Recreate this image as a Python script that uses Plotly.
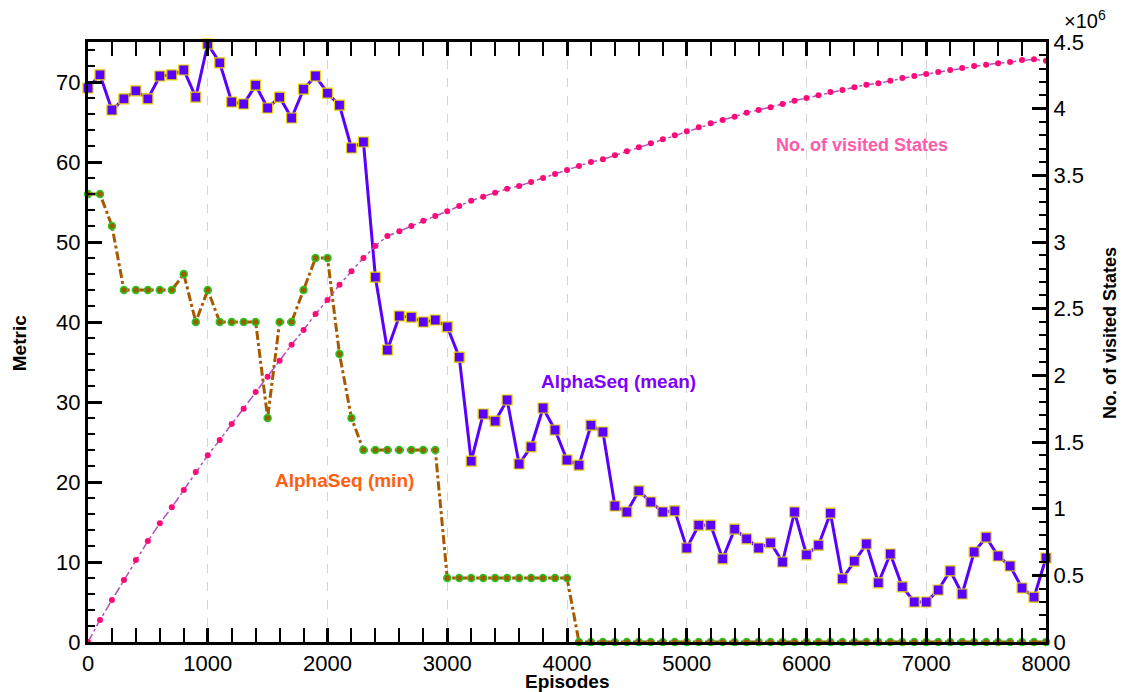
import plotly.graph_objects as go

EPISODES = list(range(0, 8001, 100))

MEAN = [69.25, 70.9, 66.5, 67.9, 68.9, 67.9, 70.75, 70.9, 71.5, 68.1,
        74.75, 72.4, 67.5, 67.25, 69.6, 66.75, 68.1, 65.5, 69.1, 70.75,
        68.6, 67.1, 61.75, 62.5, 45.6, 36.5, 40.75, 40.6, 40.0, 40.25,
        39.4, 35.6, 22.6, 28.5, 27.6, 30.25, 22.25, 24.4, 29.25, 26.5,
        22.75, 22.1, 27.1, 26.25, 17.0, 16.25, 18.9, 17.5, 16.25, 16.4,
        11.75, 14.6, 14.6, 10.4, 14.1, 12.9, 11.75, 12.4, 10.0, 16.25,
        10.9, 12.1, 16.1, 7.9, 10.1, 12.25, 7.4, 11.0, 6.9, 5.0,
        5.0, 6.5, 8.9, 6.0, 11.25, 13.1, 10.75, 9.5, 6.75, 5.6,
        10.5]

MIN = [56, 56, 52, 44, 44, 44, 44, 44, 46, 40,
       44, 40, 40, 40, 40, 28, 40, 40, 44, 48,
       48, 36, 28, 24, 24, 24, 24, 24, 24, 24,
       8, 8, 8, 8, 8, 8, 8, 8, 8, 8,
       8, 0, 0, 0, 0, 0, 0, 0, 0, 0,
       0, 0, 0, 0, 0, 0, 0, 0, 0, 0,
       0, 0, 0, 0, 0, 0, 0, 0, 0, 0,
       0, 0, 0, 0, 0, 0, 0, 0, 0, 0,
       0]

# visited states, in millions (axis shows x10^6)
STATES_M = [0.0, 0.165, 0.315, 0.465, 0.615, 0.757, 0.89, 1.01, 1.14, 1.275,
            1.40, 1.515, 1.635, 1.75, 1.875, 1.99, 2.11, 2.23, 2.34, 2.46,
            2.565, 2.68, 2.78, 2.88, 2.97, 3.045, 3.08, 3.12, 3.16, 3.195,
            3.23, 3.27, 3.31, 3.34, 3.37, 3.40, 3.42, 3.45, 3.48, 3.51,
            3.54, 3.57, 3.60, 3.62, 3.65, 3.68, 3.71, 3.74, 3.77, 3.80,
            3.83, 3.86, 3.89, 3.915, 3.94, 3.97, 3.99, 4.01, 4.035, 4.06,
            4.08, 4.10, 4.125, 4.14, 4.16, 4.18, 4.19, 4.21, 4.23, 4.245,
            4.26, 4.275, 4.29, 4.305, 4.32, 4.33, 4.34, 4.35, 4.365, 4.37,
            4.36]

X_TICKS = list(range(0, 8001, 1000))
Y_TICKS = list(range(0, 71, 10))
Y2_TICKS = [0, 0.5, 1, 1.5, 2, 2.5, 3, 3.5, 4, 4.5]
Y2_LABELS = ["0", "0.5", "1", "1.5", "2", "2.5", "3", "3.5", "4", "4.5"]

FONT = "Liberation Sans, Arial, sans-serif"

fig = go.Figure()

fig.add_trace(go.Scatter(
    x=EPISODES, y=MIN, name="AlphaSeq (min)", mode="lines+markers",
    line=dict(color="#A65A00", width=3, dash="dashdot"),
    marker=dict(symbol="circle", size=7, color="#A65A00",
                line=dict(color="#22CC22", width=1.5)),
    cliponaxis=False, yaxis="y"))

fig.add_trace(go.Scatter(
    x=EPISODES, y=MEAN, name="AlphaSeq (mean)", mode="lines+markers",
    line=dict(color="#5A00FF", width=3),
    marker=dict(symbol="square", size=10, color="#5A00FF",
                line=dict(color="#E8D400", width=1.2)),
    cliponaxis=False, yaxis="y"))

fig.add_trace(go.Scatter(
    x=EPISODES, y=STATES_M, name="No. of visited States", mode="lines+markers",
    line=dict(color="#B050C0", width=1.5, dash="dashdot"),
    marker=dict(symbol="circle", size=6, color="#FF0A78"),
    cliponaxis=False, yaxis="y2"))

axis_common = dict(
    showline=True, linecolor="black", linewidth=3,
    ticks="inside", tickcolor="black", tickwidth=3, ticklen=14,
    tickfont=dict(family=FONT, size=22, color="black"),
    zeroline=False, automargin=False,
)

fig.update_layout(
    template="none",
    width=1127, height=692,
    margin=dict(l=88, r=81, t=42, b=50, autoexpand=False),
    plot_bgcolor="white", paper_bgcolor="white",
    showlegend=False,
    font=dict(family=FONT, color="black"),
    xaxis=dict(
        range=[0, 8000], tickvals=X_TICKS, mirror="allticks",
        showgrid=True, gridcolor="#D4D4D4", gridwidth=1, griddash="dash",
        minor=dict(dtick=200, ticks="inside", ticklen=7, tickwidth=1.5,
                   tickcolor="black", showgrid=False),
        **axis_common),
    yaxis=dict(
        range=[0, 75], tickvals=Y_TICKS, showgrid=False,
        minor=dict(dtick=2, ticks="inside", ticklen=7, tickwidth=1.5,
                   tickcolor="black", showgrid=False),
        **axis_common),
    yaxis2=dict(
        range=[0, 4.5], overlaying="y", side="right",
        tickvals=Y2_TICKS, ticktext=Y2_LABELS, showgrid=False,
        minor=dict(dtick=0.1, ticks="inside", ticklen=7, tickwidth=1.5,
                   tickcolor="black", showgrid=False),
        **axis_common),
    annotations=[
        dict(text="<b>No. of visited States</b>", x=6463, y=3.73, xref="x",
             yref="y2", showarrow=False,
             font=dict(family=FONT, size=18, color="#FF5AAA")),
        dict(text="<b>AlphaSeq (mean)</b>", x=4426, y=32.6, xref="x",
             yref="y", showarrow=False,
             font=dict(family=FONT, size=19, color="#7F00FF")),
        dict(text="<b>AlphaSeq (min)</b>", x=2146, y=20.25, xref="x",
             yref="y", showarrow=False,
             font=dict(family=FONT, size=19, color="#FF6010")),
        dict(text="×10<sup>6</sup>", x=1.0407, y=1.037, xref="paper",
             yref="paper", xanchor="center", yanchor="middle",
             showarrow=False, font=dict(family=FONT, size=20, color="black")),
        # axis titles
        dict(text="<b>Episodes</b>", x=0.5, y=-0.066, xref="paper",
             yref="paper", xanchor="center", yanchor="middle",
             showarrow=False, font=dict(family=FONT, size=19, color="black")),
        dict(text="<b>Metric</b>", x=-0.072, y=0.498, xref="paper",
             yref="paper", xanchor="center", yanchor="middle", textangle=-90,
             showarrow=False, font=dict(family=FONT, size=19, color="black")),
        dict(text="<b>No. of visited States</b>", x=1.0668, y=0.515,
             xref="paper", yref="paper", xanchor="center", yanchor="middle",
             textangle=-90, showarrow=False,
             font=dict(family=FONT, size=18, color="black")),
    ],
)

fig.write_html("out.html", config={"displayModeBar": False},
               post_script="document.body.style.margin='0';")
